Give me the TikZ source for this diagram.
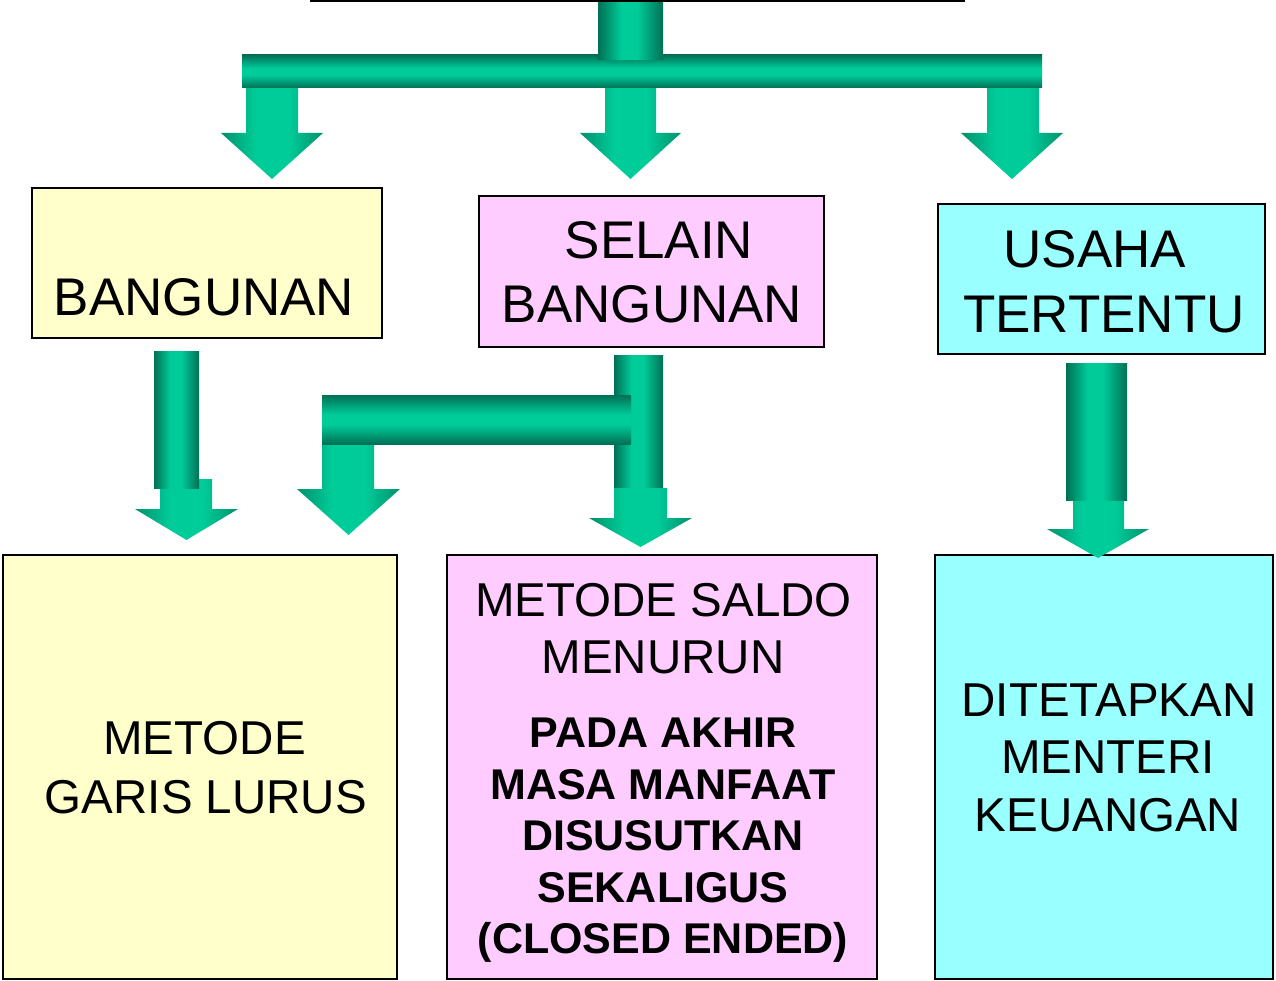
\documentclass[tikz,border=0pt]{standalone}
\usepackage{fontspec}
\setmainfont{Liberation Sans}
\definecolor{gdk}{RGB}{0,112,86}
\definecolor{glt}{RGB}{0,204,153}
\definecolor{gmd}{RGB}{0,145,108}
\definecolor{byel}{RGB}{255,255,204}
\definecolor{bpink}{RGB}{255,204,255}
\definecolor{bcyan}{RGB}{153,255,255}
\pgfdeclarehorizontalshading{pipev}{100bp}{color(0bp)=(gdk); color(25bp)=(gdk); color(43bp)=(glt); color(55bp)=(glt); color(75bp)=(gdk); color(100bp)=(gdk)}
\pgfdeclareverticalshading{pipeh}{100bp}{color(0bp)=(gdk); color(25bp)=(gdk); color(45bp)=(glt); color(55bp)=(glt); color(75bp)=(gdk); color(100bp)=(gdk)}
\pgfdeclarehorizontalshading{arrsh}{100bp}{color(0bp)=(gmd); color(25bp)=(gmd); color(42bp)=(glt); color(58bp)=(glt); color(75bp)=(gmd); color(100bp)=(gmd)}
% arrow: shaft left, shaft right, top y, head y, head left, head right, tip y
\newcommand\garrow[7]{\shade[shading=arrsh] (#1,#3) -- (#2,#3) -- (#2,#4) -- (#6,#4) -- ({(#5+#6)/2},#7) -- (#5,#4) -- (#1,#4) -- cycle;}
\newcommand\vpipe[4]{\shade[shading=pipev] (#1,#2) rectangle (#3,#4);}
\newcommand\hpipe[4]{\shade[shading=pipeh] (#1,#2) rectangle (#3,#4);}
\begin{document}
\begin{tikzpicture}[x=1pt,y=-1pt,
  box/.style={draw=black, line width=2pt, rectangle, inner sep=0pt, outer sep=0pt},
  big/.style={anchor=base, inner sep=0pt, font=\fontsize{53}{64}\selectfont},
  mid/.style={anchor=base, inner sep=0pt, font=\fontsize{47.5}{57.5}\selectfont},
  bld/.style={anchor=base, inner sep=0pt, font=\fontsize{43}{51.5}\selectfont\bfseries}]
\useasboundingbox (0,0) rectangle (1276,981);

% top partial edge
\coordinate (tl) at (310,1);
\coordinate (tr) at (965,1);
\draw[line width=2pt] (tl) -- (tr);

% boxes
\node[box, fill=byel, minimum width=350pt, minimum height=150pt] (bang) at (207,263) {};
\node[box, fill=bpink, minimum width=345pt, minimum height=151pt] (selain) at (651.5,271.5) {};
\node[box, fill=bcyan, minimum width=327pt, minimum height=150pt] (usaha) at (1101.5,279) {};
\node[box, fill=byel, minimum width=394pt, minimum height=424pt] (garis) at (200,767) {};
\node[box, fill=bpink, minimum width=430pt, minimum height=424pt] (saldo) at (662,767) {};
\node[box, fill=bcyan, minimum width=338pt, minimum height=424pt] (menteri) at (1104,767) {};

% texts
\node[big] (t1) at (204,316) {BANGUNAN};
\node[big] (t2a) at (659,259) {SELAIN};
\node[big] (t2b) at (652,323) {BANGUNAN};
\node[big] (t3a) at (1095,268) {USAHA};
\node[big] (t3b) at (1104,332) {TERTENTU};
\node[mid] (t4a) at (204.5,754) {METODE};
\node[mid] (t4b) at (206,813) {GARIS LURUS};
\node[mid] (t5a) at (663.5,616) {METODE SALDO};
\node[mid] (t5b) at (663,673) {MENURUN};
\node[bld] (t5c) at (663,747) {PADA AKHIR};
\node[bld] (t5d) at (663,799) {MASA MANFAAT};
\node[bld] (t5e) at (663,850) {DISUSUTKAN};
\node[bld] (t5f) at (663,902) {SEKALIGUS};
\node[bld] (t5g) at (663,953) {(CLOSED ENDED)};
\node[mid] (t6a) at (1109,716) {DITETAPKAN};
\node[mid] (t6b) at (1108,773) {MENTERI};
\node[mid] (t6c) at (1108,831) {KEUANGAN};

% top distribution
\garrow{246}{298}{86}{133}{221}{323}{179}
\garrow{605}{656}{86}{133}{580}{681}{179}
\garrow{987}{1039}{86}{133}{961}{1063}{179}
\hpipe{242}{55}{1042}{88}
\vpipe{598}{3}{663}{60}

% from BANGUNAN
\garrow{160}{212}{479}{509}{135}{238}{540}
\vpipe{154}{351}{199}{488}

% from SELAIN BANGUNAN
\vpipe{614}{355}{663}{488}
\garrow{614}{667}{488}{518}{589}{692}{547}
\garrow{322}{374}{443}{489}{297}{400}{535}
\hpipe{322}{395}{631}{444}

% from USAHA TERTENTU
\garrow{1073}{1124}{499}{529}{1047}{1149}{558}
\vpipe{1066}{363}{1127}{500}
\end{tikzpicture}
\end{document}
